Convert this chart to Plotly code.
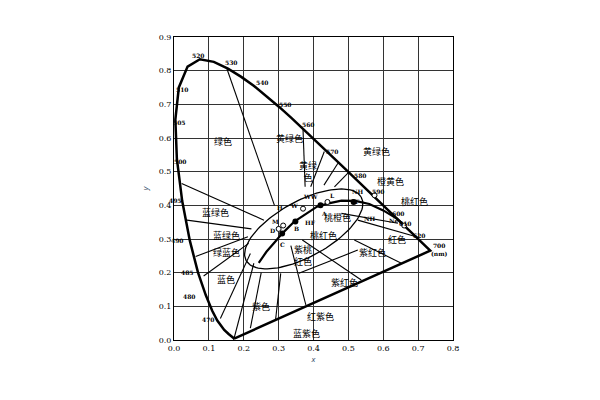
import numpy as np
import plotly.graph_objects as go

# spectral locus (CIE 1931), nm -> x, y
nm = [380, 420, 450, 460, 470, 475, 480, 485, 490, 495, 500, 505, 510, 515, 520, 525, 530,
      535, 540, 545, 550, 555, 560, 565, 570, 575, 580, 585, 590, 595, 600, 610, 620, 630, 700]
lx = [0.1741, 0.1714, 0.1566, 0.1440, 0.1241, 0.1096, 0.0913, 0.0687, 0.0454, 0.0235, 0.0082,
      0.0039, 0.0139, 0.0389, 0.0743, 0.1142, 0.1547, 0.1929, 0.2296, 0.2658, 0.3016, 0.3373,
      0.3731, 0.4087, 0.4441, 0.4788, 0.5125, 0.5448, 0.5752, 0.6029, 0.6270, 0.6658, 0.6915,
      0.7079, 0.7347]
ly = [0.0050, 0.0051, 0.0177, 0.0297, 0.0578, 0.0868, 0.1327, 0.2007, 0.2950, 0.4127, 0.5384,
      0.6548, 0.7502, 0.8120, 0.8338, 0.8262, 0.8059, 0.7816, 0.7543, 0.7243, 0.6923, 0.6589,
      0.6245, 0.5896, 0.5547, 0.5202, 0.4866, 0.4544, 0.4242, 0.3965, 0.3725, 0.3340, 0.3083,
      0.2920, 0.2653]

# planckian-like locus
px = [0.243, 0.265, 0.29, 0.31, 0.345, 0.38, 0.41, 0.44, 0.48, 0.52, 0.56, 0.60, 0.64, 0.665]
py = [0.229, 0.262, 0.292, 0.316, 0.352, 0.377, 0.396, 0.405, 0.414, 0.413, 0.404, 0.385, 0.36, 0.335]

# ellipse: center, semi axes, angle (deg)
ell_c = (0.372, 0.33)
ell_ab = (0.19, 0.082)
ell_ang = 30

# region boundary segments [(x0, y0, x1, y1)]
segs = [
    (0.152, 0.805, 0.288, 0.40), (0.370, 0.624, 0.376, 0.455), (0.431, 0.560, 0.392, 0.455),
    (0.470, 0.525, 0.43, 0.46), (0.50, 0.497, 0.46, 0.455), (0.022, 0.465, 0.258, 0.356),
    (0.037, 0.356, 0.222, 0.330), (0.062, 0.248, 0.212, 0.307), (0.085, 0.190, 0.214, 0.287),
    (0.133, 0.064, 0.219, 0.257), (0.171, 0.0, 0.229, 0.228), (0.219, 0.035, 0.250, 0.200),
    (0.291, 0.058, 0.306, 0.198), (0.378, 0.104, 0.335, 0.280), (0.368, 0.297, 0.537, 0.178),
    (0.358, 0.198, 0.527, 0.267), (0.517, 0.297, 0.652, 0.228), (0.527, 0.356, 0.70, 0.305),
    (0.48, 0.376, 0.642, 0.347),
]

labels = [
    ("绿色", 0.14, 0.59), ("黄绿色", 0.33, 0.60), ("黄绿<br>色", 0.385, 0.50), ("黄绿色", 0.58, 0.56),
    ("橙黄色", 0.62, 0.47), ("桃红色", 0.69, 0.41), ("蓝绿色", 0.12, 0.38), ("蓝绿色", 0.15, 0.31),
    ("绿蓝色", 0.15, 0.26), ("蓝色", 0.15, 0.18), ("紫色", 0.25, 0.10), ("蓝紫色", 0.38, 0.02),
    ("红紫色", 0.42, 0.07), ("紫红色", 0.49, 0.17), ("紫红色", 0.57, 0.26), ("红色", 0.64, 0.30),
    ("桃红色", 0.43, 0.31), ("紫桃<br>红色", 0.37, 0.25), ("桃橙色", 0.47, 0.365),
]
wl = [("520", 0.07, 0.845), ("530", 0.165, 0.825), ("540", 0.255, 0.765), ("550", 0.32, 0.7),
      ("560", 0.385, 0.64), ("570", 0.455, 0.56), ("580", 0.535, 0.49), ("590", 0.585, 0.44),
      ("600", 0.645, 0.375), ("610", 0.665, 0.345), ("620", 0.705, 0.31), ("700<br>(nm)", 0.76, 0.27),
      ("510", 0.025, 0.745), ("505", 0.015, 0.645), ("500", 0.02, 0.53), ("495", 0.005, 0.415),
      ("490", 0.01, 0.295), ("485", 0.04, 0.2), ("480", 0.045, 0.13), ("470", 0.1, 0.06)]
marks = [("H", 0.305, 0.395), ("W", 0.345, 0.40), ("WW", 0.39, 0.425), ("L", 0.455, 0.43),
         ("A", 0.43, 0.375), ("M", 0.292, 0.352), ("D", 0.283, 0.325), ("B", 0.35, 0.33),
         ("HF", 0.39, 0.35), ("C", 0.31, 0.285), ("NH", 0.525, 0.44), ("NH", 0.56, 0.36),
         ("Ne", 0.63, 0.355), ("δF", 0.52, 0.41)]

fig = go.Figure()
fig.add_trace(go.Scatter(x=lx + [lx[0]], y=ly + [ly[0]], mode="lines",
                         line=dict(color="black", width=2.5), hoverinfo="skip"))
t = np.linspace(0, 2 * np.pi, 120)
a = np.radians(ell_ang)
ex = ell_c[0] + ell_ab[0] * np.cos(t) * np.cos(a) - ell_ab[1] * np.sin(t) * np.sin(a)
ey = ell_c[1] + ell_ab[0] * np.cos(t) * np.sin(a) + ell_ab[1] * np.sin(t) * np.cos(a)
fig.add_trace(go.Scatter(x=ex, y=ey, mode="lines", line=dict(color="black", width=1.3), hoverinfo="skip"))
fig.add_trace(go.Scatter(x=px, y=py, mode="lines", line=dict(color="black", width=2.2), hoverinfo="skip"))
for x0, y0, x1, y1 in segs:
    fig.add_trace(go.Scatter(x=[x0, x1], y=[y0, y1], mode="lines",
                             line=dict(color="black", width=1.1), hoverinfo="skip"))
fig.add_trace(go.Scatter(x=[0.31, 0.348, 0.42, 0.515], y=[0.316, 0.352, 0.40, 0.41], mode="markers",
                         marker=dict(color="black", size=6), hoverinfo="skip"))
fig.add_trace(go.Scatter(x=[0.30, 0.313, 0.37, 0.44, 0.575, 0.66], y=[0.33, 0.34, 0.39, 0.41, 0.43, 0.34],
                         mode="markers", marker=dict(color="white", size=5, line=dict(color="black", width=1)),
                         hoverinfo="skip"))

for txt, x, y in labels:
    fig.add_annotation(x=x, y=y, text=txt, showarrow=False,
                       font=dict(family="Noto Sans CJK SC", size=9, color="black"))
for txt, x, y in wl + marks:
    fig.add_annotation(x=x, y=y, text="<b>" + txt + "</b>", showarrow=False,
                       font=dict(family="DejaVu Serif", size=6, color="black"))

fig.update_layout(
    width=600, height=400, showlegend=False, plot_bgcolor="white", paper_bgcolor="white",
    margin=dict(l=166, r=155, t=29, b=68),
    xaxis=dict(range=[0, 0.8], dtick=0.1, showgrid=True, gridcolor="#333", gridwidth=0.8,
               zeroline=False, showline=True, linecolor="black", mirror=True, ticks="",
               tickformat=".1f", tickfont=dict(family="DejaVu Serif", size=8, color="black"),
               title=dict(text="<i>x</i>", font=dict(size=8), standoff=2)),
    yaxis=dict(range=[0, 0.9], dtick=0.1, showgrid=True, gridcolor="#333", gridwidth=0.8,
               zeroline=False, showline=True, linecolor="black", mirror=True, ticks="",
               tickformat=".1f", tickfont=dict(family="DejaVu Serif", size=8, color="black"),
               title=dict(text="<i>y</i>", font=dict(size=8), standoff=8)),
)
fig.write_html("out.html")
